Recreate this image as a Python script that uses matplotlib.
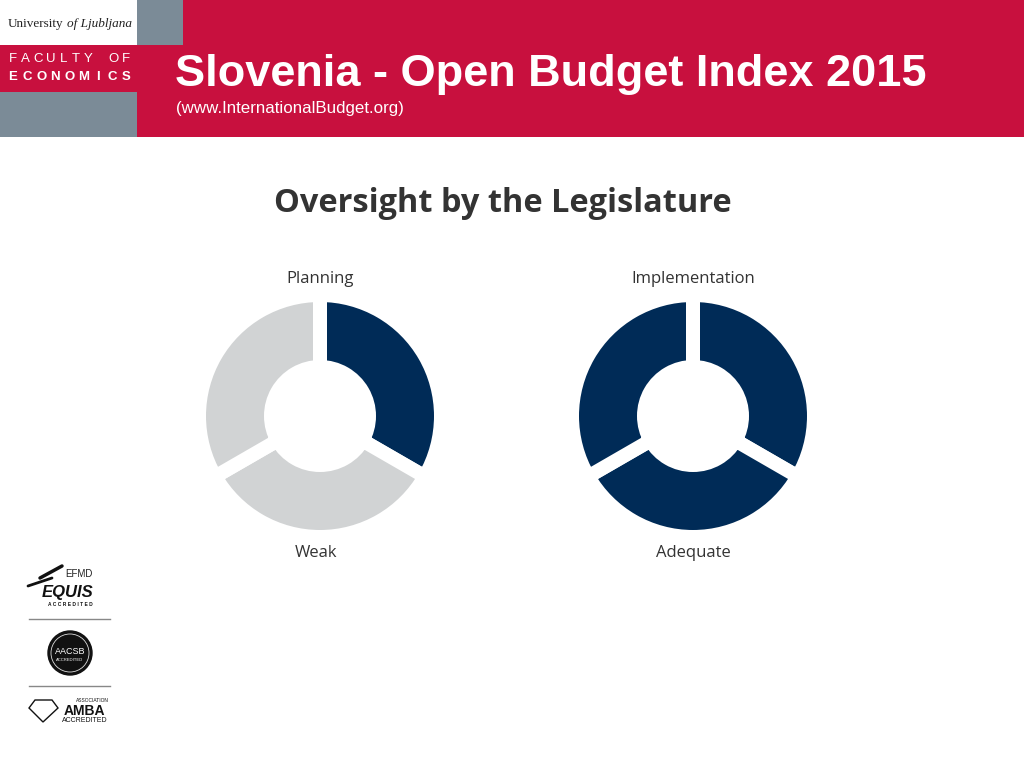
import matplotlib.pyplot as plt
from matplotlib.patches import Rectangle, Circle, Polygon

# chart data
categories = ["Planning", "Implementation"]
filled_segments = [1, 3]
segments_total = 3
ratings = ["Weak", "Adequate"]

chart_title = "Oversight by the Legislature"
page_title = "Slovenia - Open Budget Index 2015"
source = "(www.InternationalBudget.org)"

red = "#c8103e"
slate = "#7b8b97"
navy = "#002b57"
light = "#d1d3d4"
dark_text = "#333333"

fig = plt.figure(figsize=(10.24, 7.68), dpi=100)

# background axes in pixel coordinates
bg = fig.add_axes([0, 0, 1, 1])
bg.set_xlim(0, 1024)
bg.set_ylim(768, 0)
bg.axis("off")

# header blocks
bg.add_patch(Rectangle((0, 0), 1024, 137, color=red, lw=0))
bg.add_patch(Rectangle((0, 0), 137, 45, color="white", lw=0))
bg.add_patch(Rectangle((137, 0), 46, 45, color=slate, lw=0))
bg.add_patch(Rectangle((0, 92), 137, 45, color=slate, lw=0))

bg.text(8, 24, "University", family="Liberation Serif", fontsize=9.5,
        color="#222222", va="center", ha="left")
bg.text(67, 24, "of Ljubljana", family="Liberation Serif", style="italic",
        fontsize=9.5, color="#222222", va="center", ha="left")


def spaced(word, y, x0, x1, bold):
    step = (x1 - x0) / (len(word) - 1)
    for i, ch in enumerate(word):
        bg.text(x0 + i * step, y, ch, family="Liberation Sans", fontsize=9.5,
                weight="bold" if bold else "normal", color="white",
                va="center", ha="center")


spaced("FACULTY OF", 59, 13, 126, False)
spaced("ECONOMICS", 77, 13, 126, True)

bg.text(175, 86, page_title, family="Liberation Sans", weight="bold",
        fontsize=32.5, color="white", va="baseline", ha="left")
bg.text(176, 108, source, family="Liberation Sans", fontsize=12.2,
        color="white", va="center", ha="left")

bg.text(503, 203, chart_title, family="Open Sans", weight="bold",
        fontsize=23.4, color=dark_text, va="center", ha="center")

# accreditation logos
bg.text(65, 574, "EFMD", family="Liberation Sans", fontsize=7, color="#222222",
        va="center", ha="left")
bg.text(68, 592, "EQUIS", family="Liberation Sans", fontsize=12, weight="bold",
        style="italic", color="#111111", va="center", ha="center")
bg.text(70, 605, "A C C R E D I T E D", family="Liberation Sans", fontsize=3.5,
        weight="bold", color="#111111", va="center", ha="center")
bg.plot([40, 62], [578, 566], color="#111111", lw=2.5, solid_capstyle="round")
bg.plot([28, 52], [586, 578], color="#111111", lw=2, solid_capstyle="round")
bg.plot([29, 110], [619, 619], color="#888888", lw=1)
bg.plot([29, 110], [686, 686], color="#888888", lw=1)
bg.add_patch(Circle((70, 653), 22, color="#111111"))
bg.add_patch(Circle((70, 653), 19, fill=False, ec="#dddddd", lw=0.6))
bg.text(70, 652, "AACSB", family="Liberation Sans", fontsize=6.5, color="white",
        va="center", ha="center")
bg.text(70, 660, "ACCREDITED", family="Liberation Sans", fontsize=3,
        color="white", va="center", ha="center")
bg.add_patch(Polygon([(29, 708), (35, 700), (52, 700), (58, 708), (43, 722)],
                     closed=True, fill=False, ec="#111111", lw=1))
bg.text(84, 711, "AMBA", family="Liberation Sans", fontsize=10, weight="bold",
        color="#111111", va="center", ha="center")
bg.text(92, 701, "ASSOCIATION", family="Liberation Sans", fontsize=3.5,
        color="#111111", va="center", ha="center")
bg.text(85, 720, "ACCREDITED", family="Liberation Sans", fontsize=5,
        color="#111111", va="center", ha="center")

# donuts
centers = [(320, 416), (693, 416)]
outer_px = 114
inner_px = 56
gap_px = 14
box = 260
half = box / 2 / outer_px
r_param = (outer_px + gap_px / 2) / outer_px
w_param = (outer_px - inner_px + gap_px) / outer_px

for (cx, cy), name, n_fill, rating in zip(centers, categories,
                                          filled_segments, ratings):
    ax = fig.add_axes([(cx - box / 2) / 1024, 1 - (cy + box / 2) / 768,
                       box / 1024, box / 768])
    colors = [navy if i < n_fill else light for i in range(segments_total)]
    ax.pie([1] * segments_total, colors=colors, startangle=90,
           counterclock=False, radius=r_param,
           wedgeprops=dict(width=w_param, edgecolor="white",
                           linewidth=gap_px * 0.72))
    ax.set_xlim(-half, half)
    ax.set_ylim(-half, half)
    ax.set_aspect("equal")
    ax.axis("off")
    bg.text(cx, 279, name, family="Open Sans", fontsize=12, color=dark_text,
            va="center", ha="center")
    bg.text(cx - 4 if n_fill == 1 else cx, 553, rating, family="Open Sans",
            fontsize=12, color=dark_text, va="center", ha="center")

fig.savefig("out.png", dpi=100)
